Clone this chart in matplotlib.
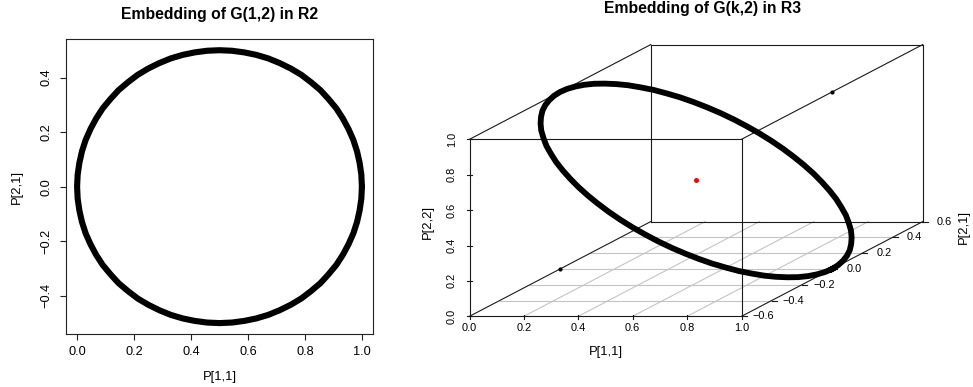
import numpy as np
import matplotlib
matplotlib.use('Agg')
import matplotlib.pyplot as plt

plt.rcParams['font.family'] = ['Liberation Sans', 'DejaVu Sans']

# projection matrices of G(1,2)
p11 = [1.000, 0.998, 0.992, 0.983, 0.970, 0.953, 0.933, 0.910, 0.883, 0.854,
       0.821, 0.787, 0.750, 0.711, 0.671, 0.629, 0.587, 0.544, 0.500, 0.456,
       0.413, 0.371, 0.329, 0.289, 0.250, 0.213, 0.179, 0.146, 0.117, 0.090,
       0.067, 0.047, 0.030, 0.017, 0.008, 0.002, 0.000, 0.002, 0.008, 0.017,
       0.030, 0.047, 0.067, 0.090, 0.117, 0.146, 0.179, 0.213, 0.250, 0.289,
       0.329, 0.371, 0.413, 0.456, 0.500, 0.544, 0.587, 0.629, 0.671, 0.711,
       0.750, 0.787, 0.821, 0.854, 0.883, 0.910, 0.933, 0.953, 0.970, 0.983,
       0.992, 0.998]
p21 = [0.000, 0.044, 0.087, 0.129, 0.171, 0.211, 0.250, 0.287, 0.321, 0.354,
       0.383, 0.410, 0.433, 0.453, 0.470, 0.483, 0.492, 0.498, 0.500, 0.498,
       0.492, 0.483, 0.470, 0.453, 0.433, 0.410, 0.383, 0.354, 0.321, 0.287,
       0.250, 0.211, 0.171, 0.129, 0.087, 0.044, 0.000, -0.044, -0.087, -0.129,
       -0.171, -0.211, -0.250, -0.287, -0.321, -0.354, -0.383, -0.410, -0.433, -0.453,
       -0.470, -0.483, -0.492, -0.498, -0.500, -0.498, -0.492, -0.483, -0.470, -0.453,
       -0.433, -0.410, -0.383, -0.354, -0.321, -0.287, -0.250, -0.211, -0.171, -0.129,
       -0.087, -0.044]
p22 = [0.000, 0.002, 0.008, 0.017, 0.030, 0.047, 0.067, 0.090, 0.117, 0.146,
       0.179, 0.213, 0.250, 0.289, 0.329, 0.371, 0.413, 0.456, 0.500, 0.544,
       0.587, 0.629, 0.671, 0.711, 0.750, 0.787, 0.821, 0.854, 0.883, 0.910,
       0.933, 0.953, 0.970, 0.983, 0.992, 0.998, 1.000, 0.998, 0.992, 0.983,
       0.970, 0.953, 0.933, 0.910, 0.883, 0.854, 0.821, 0.787, 0.750, 0.711,
       0.671, 0.629, 0.587, 0.544, 0.500, 0.456, 0.413, 0.371, 0.329, 0.289,
       0.250, 0.213, 0.179, 0.146, 0.117, 0.090, 0.067, 0.047, 0.030, 0.017,
       0.008, 0.002]

# G(0,2), G(2,2) and the centre point
g0 = (0.0, 0.0, 0.0)
g2 = (1.0, 0.0, 1.0)
centre = (0.5, 0.0, 0.5)

xticks3 = [0.0, 0.2, 0.4, 0.6, 0.8, 1.0]
yticks3 = [-0.6, -0.4, -0.2, 0.0, 0.2, 0.4, 0.6]
zticks3 = [0.0, 0.2, 0.4, 0.6, 0.8, 1.0]

W, H = 973, 387
def fx(px):
    return px / W
def fy(py):
    return 1 - py / H

fig = plt.figure(figsize=(W / 100, H / 100), dpi=100)

# ---------------- left: 2d circle ----------------
ax1 = fig.add_axes([fx(65.7), fy(334), (373.3 - 65.7) / W, (334 - 39.3) / H])
ax1.plot(p11 + [p11[0]], p21 + [p21[0]], color='black', lw=4.4,
         solid_joinstyle='round', solid_capstyle='round')
ax1.set_xlim(-0.04, 1.04)
ax1.set_ylim(-0.54, 0.54)
ax1.set_xticks([0, 0.2, 0.4, 0.6, 0.8, 1.0])
ax1.set_xticklabels(['0.0', '0.2', '0.4', '0.6', '0.8', '1.0'])
ax1.set_yticks([-0.4, -0.2, 0.0, 0.2, 0.4])
ax1.set_yticklabels(['\u22120.4', '\u22120.2', '0.0', '0.2', '0.4'], rotation=90, va='center')
ax1.tick_params(direction='out', length=4.3, width=0.8, labelsize=9.2, color='#222222')
ax1.tick_params(axis='x', pad=4.0)
ax1.tick_params(axis='y', pad=5.0)
for s in ax1.spines.values():
    s.set_linewidth(0.8)
    s.set_color('#222222')
fig.text(fx(219.2), fy(15), 'Embedding of G(1,2) in R2', ha='center', va='center',
         fontsize=11.3, fontweight='bold')
fig.text(fx(219.5), fy(376.7), 'P[1,1]', ha='center', va='center', fontsize=9.4)
fig.text(fx(16.7), fy(187), 'P[2,1]', ha='center', va='center', fontsize=9.4, rotation=90)

# ---------------- right: 3d oblique view ----------------
sx, sz = 272.0, 177.0          # px per unit for x and z
du, dv = 181.2 / sx, 94.7 / sz  # depth shift of the back face
ax2 = fig.add_axes([fx(469.5), fy(316.3), (sx + 181.2) / W, (sz + 94.7) / H])
ax2.set_xlim(0, 1 + du)
ax2.set_ylim(0, 1 + dv)
ax2.axis('off')

def proj(x, y, z):
    t = (np.asarray(y, dtype=float) + 0.6) / 1.2
    return np.asarray(x, dtype=float) + t * du, np.asarray(z, dtype=float) + t * dv

grey = '#c4c4c4'
for yv in yticks3[1:-1]:
    u, v = proj([0, 1], [yv, yv], [0, 0])
    ax2.plot(u, v, color=grey, lw=0.8, zorder=1)
for xv in xticks3[1:-1]:
    u, v = proj([xv, xv], [-0.6, 0.6], [0, 0])
    ax2.plot(u, v, color=grey, lw=0.8, zorder=1)

# box edges
edges = []
for yb in (-0.6, 0.6):
    edges += [((0, yb, 0), (1, yb, 0)), ((0, yb, 1), (1, yb, 1)),
              ((0, yb, 0), (0, yb, 1)), ((1, yb, 0), (1, yb, 1))]
for xb in (0, 1):
    for zb in (0, 1):
        edges.append(((xb, -0.6, zb), (xb, 0.6, zb)))
for p, q in edges:
    u, v = proj([p[0], q[0]], [p[1], q[1]], [p[2], q[2]])
    ax2.plot(u, v, color='#1a1a1a', lw=0.8, zorder=2, clip_on=False)

tfs = 7.9
for xv in xticks3:
    u, v = proj(xv, -0.6, 0)
    ax2.plot([u, u], [v - 3 / sz, v + 1.5 / sz], color='#1a1a1a', lw=0.8, clip_on=False)
    ax2.text(u, v - 12 / sz, '%.1f' % xv, ha='center', va='center', fontsize=tfs, clip_on=False)
for zv in zticks3:
    u, v = proj(0, -0.6, zv)
    ax2.plot([u - 3 / sx, u + 2.5 / sx], [v, v], color='#1a1a1a', lw=0.8, clip_on=False)
    ax2.text(u - 17.8 / sx, v, '%.1f' % zv, ha='center', va='center', fontsize=tfs,
             rotation=90, clip_on=False)
for yv in yticks3:
    u, v = proj(1, yv, 0)
    ax2.plot([u, u + 5 / sx], [v, v], color='#1a1a1a', lw=0.8, clip_on=False)
    lab = ('%.1f' % yv).replace('-', '\u2212')
    ax2.text(u + 22 / sx, v, lab, ha='center', va='center', fontsize=tfs, clip_on=False)

u, v = proj(p11 + [p11[0]], p21 + [p21[0]], p22 + [p22[0]])
ax2.plot(u, v, color='black', lw=4.2, solid_joinstyle='round', zorder=3, clip_on=False)
for pt, col, ms in ((g0, 'black', 3.0), (g2, 'black', 3.0), (centre, 'red', 3.6)):
    u, v = proj(*pt)
    ax2.plot(u, v, 'o', color=col, ms=ms, mew=0, zorder=4)

fig.text(fx(702.5), fy(9), 'Embedding of G(k,2) in R3', ha='center', va='center',
         fontsize=11.3, fontweight='bold')
fig.text(fx(605.5), fy(351.7), 'P[1,1]', ha='center', va='center', fontsize=9.4)
fig.text(fx(428.3), fy(221.7), 'P[2,2]', ha='center', va='center', fontsize=9.4, rotation=90)
fig.text(fx(963.5), fy(226.7), 'P[2,1]', ha='center', va='center', fontsize=9.4, rotation=90)

fig.savefig('out.png', dpi=100)
